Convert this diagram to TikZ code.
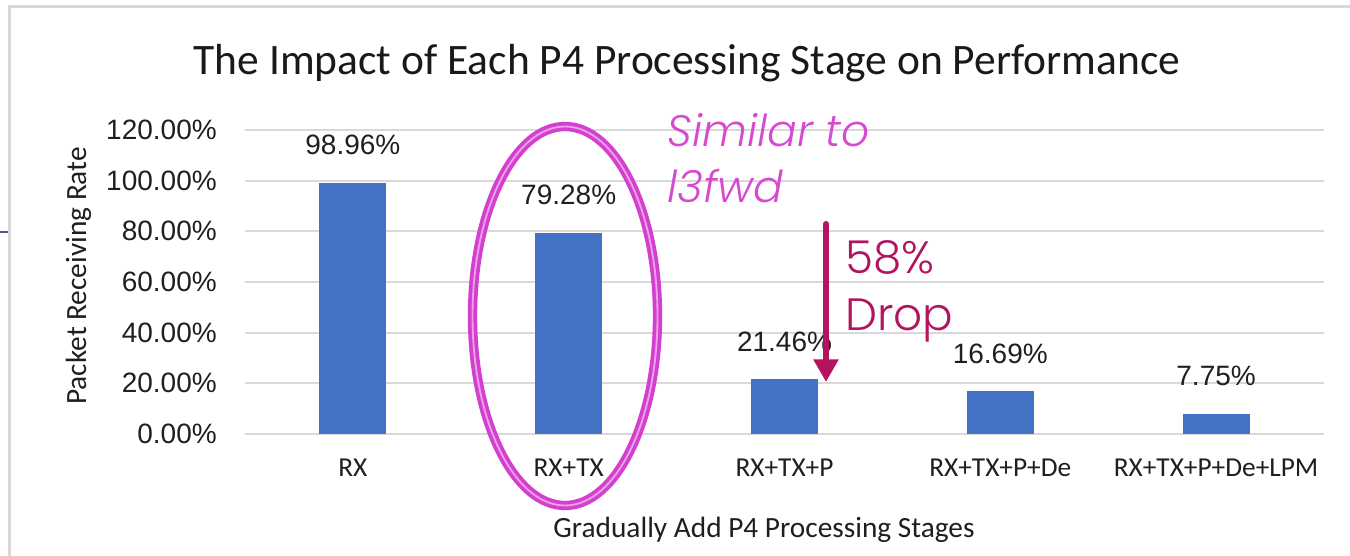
\documentclass[tikz,border=0pt]{standalone}
\usepackage{fontspec}
\usetikzlibrary{arrows.meta,calc}
\setmainfont{Carlito}
\newfontfamily\arialfont{Liberation Sans}
\IfFontExistsTF{Poppins Light}{\newfontfamily\gothic{Poppins Light}}{\newfontfamily\gothic{Poppins}}
\IfFontExistsTF{Poppins Light Italic}{\newfontfamily\gothicit{Poppins Light Italic}}{\newfontfamily\gothicit{Poppins}[FakeSlant=0.2]}

\definecolor{gridgray}{HTML}{D9D9D9}
\definecolor{barblue}{HTML}{4472C4}
\definecolor{ringpink}{HTML}{D43FD0}
\definecolor{ringlight}{HTML}{EBA0E8}
\definecolor{notepink}{HTML}{D649D1}
\definecolor{dropred}{HTML}{B3135F}
\definecolor{edgeblue}{HTML}{55557F}

\tikzset{
  gridline/.style={draw=gridgray, line width=1.5pt},
  framedge/.style={draw=gridgray, line width=2.2pt},
  ticklbl/.style={inner sep=0pt, anchor=east, font=\arialfont\fontsize{21}{25}\selectfont, text=black!88},
  datalbl/.style={inner sep=0pt, anchor=base, font=\arialfont\fontsize{21}{25}\selectfont, text=black!88},
  catlbl/.style={inner sep=0pt, anchor=base, font=\fontsize{20.5}{24}\selectfont, text=black!88},
  axtitle/.style={inner sep=0pt, font=\fontsize{22}{26}\selectfont, text=black!88},
  barbox/.style={fill=barblue, draw=none, inner sep=0pt, minimum width=50.25pt, anchor=south},
  ring/.style={draw=ringpink, line width=7pt},
  ringcore/.style={draw=ringlight, line width=1.4pt},
  simnote/.style={inner sep=0pt, anchor=base west, text=notepink, font=\gothicit\fontsize{33}{40}\selectfont},
  dropnote/.style={inner sep=0pt, anchor=base west, text=dropred, font=\gothic\fontsize{34}{40}\selectfont},
  droparrow/.style={draw=dropred, line width=4.5pt, line cap=round,
    -{Triangle[width=18pt,length=17pt]}},
}

\begin{document}
\begin{tikzpicture}[x=0.75pt,y=-0.75pt]
\useasboundingbox (0,0) rectangle (1350,556);
\fill[white] (0,0) rectangle (1350,556);

% chart frame and the stray edge mark on the left
\draw[framedge] (9.5,556) -- (9.5,6.5) -- (1350,6.5);
\draw[draw=edgeblue, line width=1.1pt] (0,232) -- (8,232);

% title
\node[inner sep=0pt, anchor=base, font=\fontsize{32.6}{39}\selectfont, text=black!90]
  (title) at (687,75) {The Impact of Each P4 Processing Stage on Performance};

% horizontal grid and y tick labels (50.67 px per 20 %)
\foreach \v in {0,20,...,120}{
  \pgfmathsetmacro{\yy}{434-\v*2.53333}
  \draw[gridline] (245,\yy) -- (1324,\yy);
  \node[ticklbl] (tick\v) at (217,\yy) {\v.00\%};
}

% bars, value labels and category labels
\foreach \i/\val/\lbl in {1/98.96/RX, 2/79.28/RX+TX, 3/21.46/RX+TX+P,
                          4/16.69/RX+TX+P+De, 5/7.75/RX+TX+P+De+LPM}{
  \pgfmathsetmacro{\cx}{245+(\i-0.5)*215.8}
  \pgfmathsetmacro{\hh}{\val*1.9}
  \node[barbox, minimum height=\hh pt] (bar\i) at (\cx,434) {};
  \node[datalbl] (val\i) at ($(bar\i.north)+(0,-28)$) {\val\%};
  \node[catlbl] (cat\i) at (\cx,476) {\lbl};
}

% axis titles
\node[axtitle, anchor=base] (xtitle) at (764,537) {Gradually Add P4 Processing Stages};
\node[axtitle, anchor=base, rotate=90] (ytitle) at (86,276) {Packet Receiving Rate};

% highlight ring around the RX+TX bar
\draw[ring] (565,316) ellipse [x radius=92.5, y radius=189.5];
\draw[ringcore] (565,316) ellipse [x radius=92.5, y radius=189.5];
\node[simnote] (similar) at (667,147) {Similar to};
\node[simnote] (l3fwd) at (667,203) {l3fwd};

% drop annotation
\coordinate (dropstart) at (826,224);
\coordinate (droptip) at (826,382);
\draw[droparrow] (dropstart) -- (droptip);
\node[dropnote] (dropa) at (845,273) {58\%};
\node[dropnote] (dropb) at (845,330) {Drop};
\end{tikzpicture}
\end{document}
